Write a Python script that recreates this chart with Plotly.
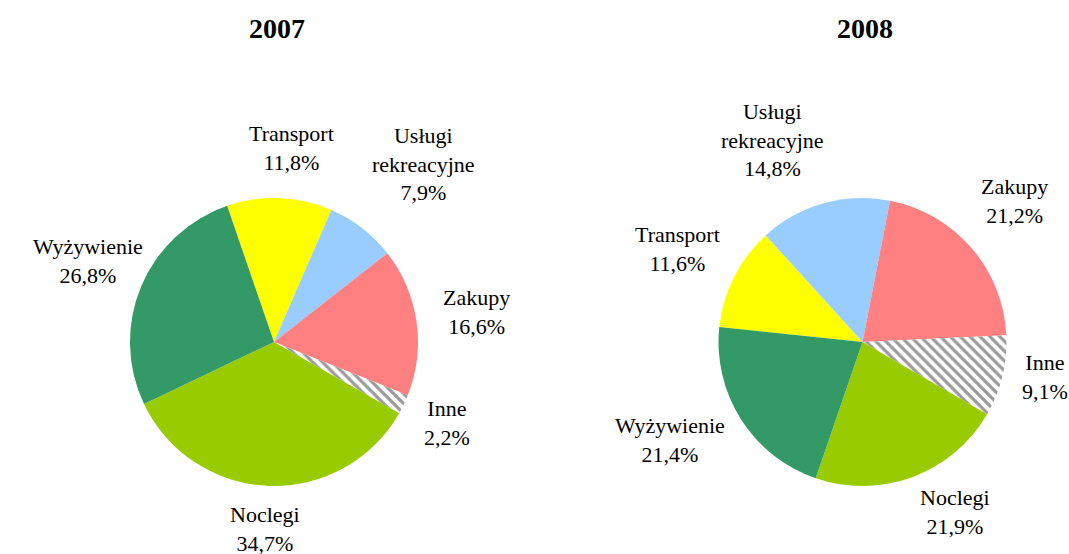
import plotly.graph_objects as go

# Struktura wydatków turystów (%)
categories = ["Transport", "Usługi rekreacyjne", "Zakupy", "Inne", "Noclegi", "Wyżywienie"]
values_2007 = [11.8, 7.9, 16.6, 2.2, 34.7, 26.8]
values_2008 = [11.6, 14.8, 21.2, 9.1, 21.9, 21.4]
years = ["2007", "2008"]

colors = ["#FFFF00", "#99CCFF", "#FF8080", "#FFFFFF", "#99CC00", "#339966"]
shapes = ["", "", "", "\\", "", ""]

W, H = 1069, 554
FONT = "Liberation Serif, Times New Roman, serif"

# pie placement in pixels: (left, right, top, bottom) and start angle
pie_boxes = {
    "2007": dict(box=(130, 418, 198, 486), rotation=-19),
    "2008": dict(box=(718, 1007, 198, 486), rotation=-84),
}

# label centres in pixels
label_pos = {
    "2007": [(291, 148), (423, 164), (476, 312), (447, 423), (265, 529), (88, 261)],
    "2008": [(677, 249), (772, 140), (1014, 201), (1045, 377), (955, 512), (670, 440)],
}
title_pos = {"2007": (277, 29), "2008": (865, 29)}


def px_x(x):
    return x / W


def px_y(y):
    return 1 - y / H


def fmt(v):
    return f"{v:.1f}%".replace(".", ",")


fig = go.Figure()
annotations = []

for year, vals in zip(years, [values_2007, values_2008]):
    l, r, t, b = pie_boxes[year]["box"]
    fig.add_trace(go.Pie(
        labels=categories,
        values=vals,
        sort=False,
        direction="clockwise",
        rotation=pie_boxes[year]["rotation"],
        domain=dict(x=[px_x(l), px_x(r)], y=[px_y(b), px_y(t)]),
        marker=dict(
            colors=colors,
            line=dict(width=0),
            pattern=dict(shape=shapes, fgcolor="#9A9A9A", bgcolor="#FFFFFF",
                         size=7, solidity=0.45),
        ),
        textinfo="none",
        hoverinfo="skip",
        showlegend=False,
    ))
    for cat, v, (x, y) in zip(categories, vals, label_pos[year]):
        annotations.append(dict(
            x=px_x(x), y=px_y(y), xref="paper", yref="paper",
            xanchor="center", yanchor="middle", showarrow=False,
            text=cat.replace(" ", "<br>") + "<br>" + fmt(v),
            font=dict(family=FONT, size=22, color="#000000"),
        ))
    tx, ty = title_pos[year]
    annotations.append(dict(
        x=px_x(tx), y=px_y(ty), xref="paper", yref="paper",
        xanchor="center", yanchor="middle", showarrow=False,
        text=f"<b>{year}</b>",
        font=dict(family=FONT, size=28, color="#000000"),
    ))

fig.update_layout(
    width=W, height=H,
    margin=dict(l=0, r=0, t=0, b=0),
    paper_bgcolor="#FFFFFF",
    plot_bgcolor="#FFFFFF",
    annotations=annotations,
)

fig.write_html("out.html")
